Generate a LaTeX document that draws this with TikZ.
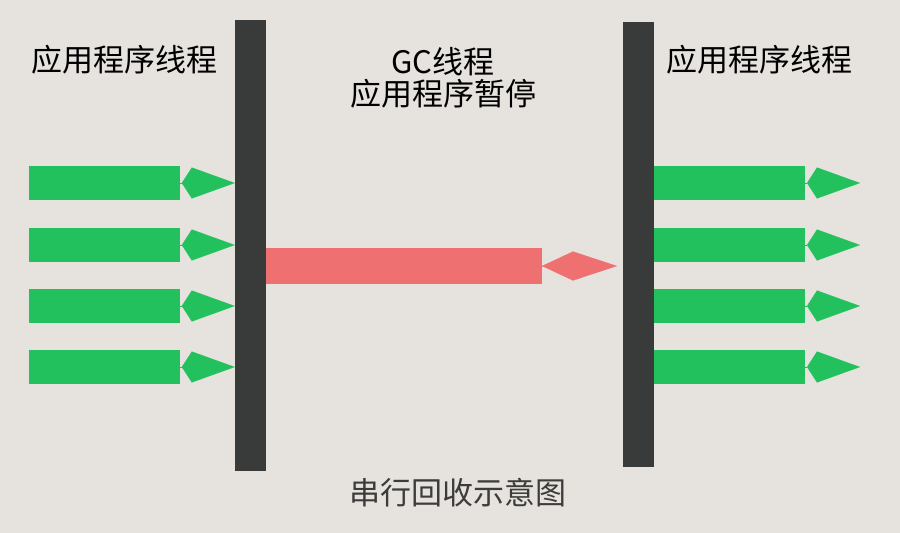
\documentclass[tikz,border=0pt]{standalone}
\usepackage{fontspec}
\setmainfont{Noto Sans CJK SC}
\usetikzlibrary{arrows.meta}
\definecolor{bgcol}{HTML}{E6E2DE}
\definecolor{thread}{HTML}{22C15E}
\definecolor{barcol}{HTML}{383B39}
\definecolor{gccol}{HTML}{EE7070}
\definecolor{capcol}{HTML}{3C3C3C}
\tikzset{
  wall/.style={fill=barcol,inner sep=0pt,minimum width=31pt},
  job/.style={fill=thread,inner sep=0pt,minimum width=151pt,minimum height=34pt},
  jobtip/.style={thread,line width=0.2pt,-{Kite[length=53pt,width=31pt,inset=10pt]}},
  gctip/.style={gccol,line width=0.2pt,-{Kite[length=75pt,width=29pt,inset=31pt]}},
  lbl/.style={font=\fontsize{31}{38}\selectfont,align=center}
}
\begin{document}
\begin{tikzpicture}[x=1pt,y=-1pt]
    \fill[bgcol] (0,0) rectangle (900,533);
    \useasboundingbox (0,0) rectangle (900,533);
    % walls
    \node[wall,minimum height=451pt] (lwall) at (250.5,245.5) {};
    \node[wall,minimum height=445pt] (rwall) at (638.5,244.5) {};
    % labels
    \node[lbl] (ltitle) at (124,60) {应用程序线程};
    \node[lbl] (rtitle) at (759,60) {应用程序线程};
    \node[lbl] (gctitle) at (443,78) {GC线程\\[-6pt]应用程序暂停};
    \node[lbl,text=capcol] (caption) at (458,493) {串行回收示意图};

    % left threads
    \node[job] (l1) at (104.5,183) {};
    \node[job] (l2) at (104.5,245) {};
    \node[job] (l3) at (104.5,306) {};
    \node[job] (l4) at (104.5,367) {};
    \draw[jobtip] (l1.east) -- (l1.east -| lwall.west);
    \draw[jobtip] (l2.east) -- (l2.east -| lwall.west);
    \draw[jobtip] (l3.east) -- (l3.east -| lwall.west);
    \draw[jobtip] (l4.east) -- (l4.east -| lwall.west);

    % gc thread
    \node[fill=gccol,inner sep=0pt,minimum width=276pt,minimum height=36pt] (gc) at (404,266) {};
    \coordinate (gcend) at (617,266);
    \draw[gctip] (gc.east) -- (gcend);

    % right threads
    \node[job] (r1) at (729.5,183) {};
    \node[job] (r2) at (729.5,245) {};
    \node[job] (r3) at (729.5,306) {};
    \node[job] (r4) at (729.5,367) {};
    \coordinate (r1end) at (860,183);
    \coordinate (r2end) at (860,245);
    \coordinate (r3end) at (860,306);
    \coordinate (r4end) at (860,367);
    \draw[jobtip] (r1.east) -- (r1end);
    \draw[jobtip] (r2.east) -- (r2end);
    \draw[jobtip] (r3.east) -- (r3end);
    \draw[jobtip] (r4.east) -- (r4end);
\end{tikzpicture}
\end{document}
